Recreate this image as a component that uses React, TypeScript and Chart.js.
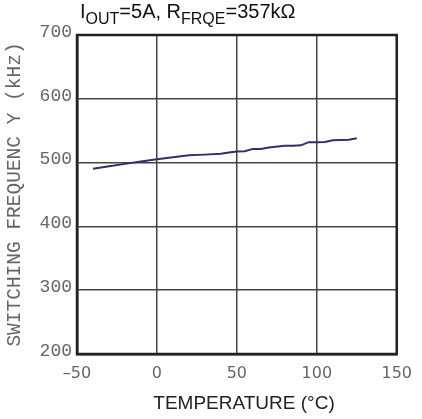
import React, { useEffect, useRef } from "react";
import { Chart, registerables } from "chart.js";

Chart.register(...registerables);

const temperatures = [-40, -30, -20, -10, 0, 10, 20, 30, 40, 45, 50, 55, 60, 65, 70, 80, 85, 90, 95, 100, 105, 110, 115, 120, 125];
const frequencyKHz = [490.5, 494.2, 498, 501.6, 505.3, 508.5, 511.5, 512.5, 514, 516, 517.5, 517.7, 521.5, 521.5, 523.5, 526.5, 526.5, 527, 532, 532, 532.4, 535, 535.5, 536, 538];

const xTitle = "TEMPERATURE (°C)";
const yTitle = "SWITCHING FREQUENC Y (kHz)";
const titleParts: { text: string; sub: boolean }[] = [
  { text: "I", sub: false },
  { text: "OUT", sub: true },
  { text: "=5A, R", sub: false },
  { text: "FRQE", sub: true },
  { text: "=357kΩ", sub: false },
];

const W = 422;
const H = 419;

const decorPlugin = {
  id: "decor",
  afterDatasetsDraw(chart: any) {
    const { ctx, chartArea } = chart;
    ctx.save();
    ctx.strokeStyle = "#222";
    ctx.lineWidth = 2.5;
    ctx.strokeRect(chartArea.left, chartArea.top, chartArea.right - chartArea.left, chartArea.bottom - chartArea.top);
    ctx.restore();
  },
  afterDraw(chart: any) {
    const { ctx } = chart;
    ctx.save();
    // Chart title with subscripts
    ctx.fillStyle = "#111";
    ctx.textBaseline = "alphabetic";
    ctx.textAlign = "left";
    let x = 80;
    const baseY = 17.8;
    for (const p of titleParts) {
      ctx.font = p.sub ? "16px 'Liberation Sans', Arial, sans-serif" : "20px 'Liberation Sans', Arial, sans-serif";
      const y = p.sub ? baseY + 5.8 : baseY;
      ctx.fillText(p.text, x, y);
      x += ctx.measureText(p.text).width;
    }
    // X axis title
    ctx.font = "19px 'Liberation Sans', Arial, sans-serif";
    ctx.fillStyle = "#222";
    ctx.textAlign = "center";
    ctx.textBaseline = "middle";
    ctx.fillText(xTitle, 244, 404);
    ctx.restore();
  },
};

export default function App() {
  const ref = useRef<HTMLCanvasElement>(null);
  useEffect(() => {
    if (!ref.current) return;
    const chart = new Chart(ref.current, {
      type: "line",
      data: {
        datasets: [
          {
            data: temperatures.map((t, i) => ({ x: t, y: frequencyKHz[i] })),
            borderColor: "#2e3168",
            borderWidth: 2,
            pointRadius: 0,
            tension: 0,
            fill: false,
          },
        ],
      },
      options: {
        responsive: false,
        animation: false,
        layout: { padding: { left: 0, right: W - 397, top: 35, bottom: 0 } },
        plugins: { legend: { display: false }, tooltip: { enabled: false } },
        scales: {
          x: {
            type: "linear",
            min: -50,
            max: 150,
            afterFit: (s: any) => {
              s.height = H - 354;
            },
            ticks: {
              stepSize: 50,
              padding: 10,
              color: "#666",
              font: { family: "'DejaVu Sans', sans-serif", size: 16 },
              callback: (v: any) => String(v).replace("-", "–"),
            },
            grid: { color: "#444", lineWidth: 1.5, drawTicks: false },
            border: { display: true, color: "#222", width: 2.5 },
          },
          y: {
            min: 200,
            max: 700,
            afterFit: (s: any) => {
              s.width = 77;
            },
            ticks: {
              stepSize: 100,
              padding: 5,
              labelOffset: -3,
              color: "#666",
              font: { family: "'Liberation Mono', monospace", size: 18 },
            },
            title: {
              display: true,
              text: yTitle,
              color: "#666",
              font: { family: "'Liberation Mono', monospace", size: 19.5 },
              padding: { top: 3, bottom: 0 },
            },
            grid: { color: "#444", lineWidth: 1.5, drawTicks: false },
            border: { display: true, color: "#222", width: 2.5 },
          },
        },
      },
      plugins: [decorPlugin],
    });
    return () => chart.destroy();
  }, []);
  return (
    <div style={{ position: "fixed", left: 0, top: 0, width: W, height: H, background: "#fff" }}>
      <canvas ref={ref} width={W} height={H} style={{ width: W, height: H, display: "block" }} />
    </div>
  );
}
